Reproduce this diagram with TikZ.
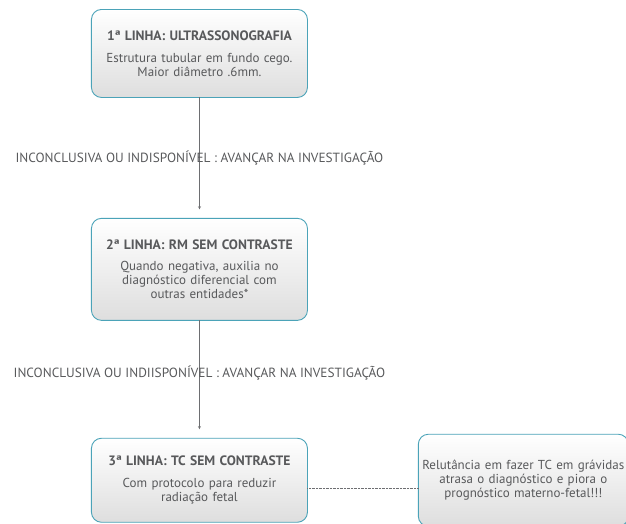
\documentclass[tikz,border=0pt]{standalone}
\usepackage{fontspec}
\setmainfont{PT Sans}
\usetikzlibrary{matrix}
\definecolor{boxline}{HTML}{4BA3B8}
\definecolor{txtgray}{HTML}{58595B}
\definecolor{arrgray}{HTML}{6D6E71}

\begin{document}
\begin{tikzpicture}[>=stealth,
		passo/.style={draw=boxline,line width=0.9pt,rounded corners=10pt,
			top color=white,bottom color=black!13,text=txtgray,align=center,
			font=\fontsize{13}{14}\selectfont,text width=204pt,inner xsep=6pt,inner ysep=0pt},
		aviso/.style={text=txtgray,font=\fontsize{13.3}{15}\selectfont}]
		\clip (0,0) rectangle (626pt,-524pt);
		\matrix (tree) [%
		matrix of nodes,
		anchor=north west,
		inner sep=0pt,outer sep=0pt,
		nodes={passo},
		column sep=110pt,
		row sep=120pt,ampersand replacement=\&
		] at (91pt,-9pt)
		{
			|[anchor=north,minimum height=88pt]| {\bfseries\fontsize{13.6}{14}\selectfont 1ª LINHA: ULTRASSONOGRAFIA}\par\vspace{8pt}Estrutura tubular em fundo cego.\par Maior diâmetro .6mm. \& \\
			|[anchor=north,minimum height=102pt]| {\bfseries\fontsize{13.6}{14}\selectfont 2ª LINHA: RM SEM CONTRASTE}\par\vspace{7pt}Quando negativa, auxilia no\par diagnóstico diferencial com\par outras entidades* \& \\[-7pt]
			|[anchor=north,minimum height=84pt]| {\bfseries\fontsize{13.6}{14}\selectfont 3ª LINHA: TC SEM CONTRASTE}\par\vspace{8pt}Com protocolo para reduzir\par radiação fetal \& |[anchor=north,minimum height=92pt,text width=204pt,inner xsep=3pt,yshift=4pt]| Relutância em fazer TC em grávidas\par atrasa o diagnóstico e piora o\par prognóstico materno-fetal!!! \\
		};
		\draw[->,arrgray,shorten >=9pt] (tree-1-1) -- (tree-2-1) node [midway,aviso] {INCONCLUSIVA OU INDISPONÍVEL : AVANÇAR NA INVESTIGAÇÃO};
		\draw[->,arrgray,shorten >=9pt] (tree-2-1) -- (tree-3-1) node [midway,yshift=6pt,aviso] {INCONCLUSIVA OU INDIISPONÍVEL : AVANÇAR NA INVESTIGAÇÃO};
		\draw[arrgray,densely dotted] ([yshift=-8pt]tree-3-1.east) -- ([yshift=-8pt]tree-3-2.west);
\end{tikzpicture}
\end{document}
